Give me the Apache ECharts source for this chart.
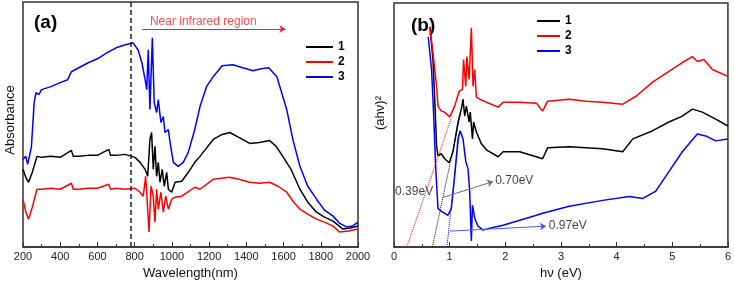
<!DOCTYPE html>
<html><head><meta charset="utf-8">
<script src="https://cdn.jsdelivr.net/npm/echarts@6/dist/echarts.min.js"></script>
<style>html,body{margin:0;padding:0;background:#fff}#c{width:734px;height:285px}</style>
</head><body><div id="c"></div>
<script>
// ---------- Panel (a): absorbance vs wavelength (arbitrary units) ----------
const aXTicks = [200, 400, 600, 800, 1000, 1200, 1400, 1600, 1800, 2000];
const a3X = [200,215,225,245,260,270,285,300,350,400,440,460,500,550,600,650,700,750,791,818,839,856,865,873,882,895,905,918,927,941,954,963,981,990,1008,1034,1061,1088,1123,1151,1186,1222,1270,1329,1380,1436,1480,1520,1564,1617,1650,1688,1730,1777,1820,1866,1900,1940,1970,2000];
const a3Y = [88,91,83,100,145,155,153,158,161,165,168,176,180,185,189,195,200,203,205,198,185,168,158,198,138,210,145,135,148,125,131,115,118,105,85,81,85,95,118,141,161,171,182,183,180,177,179,180,171,138,108,81,61,48,37,31,24,20,21,25];
const a1X = [200,215,230,250,275,300,350,400,460,470,500,550,600,661,670,700,748,802,829,856,870,882,891,900,909,918,927,936,948,959,972,981,999,1017,1053,1088,1123,1151,1222,1270,1311,1360,1418,1470,1525,1560,1596,1640,1688,1730,1777,1820,1866,1919,1960,2000];
const a1Y = [78,70,65,75,91,90,91,90,97,91,91,92,92,98,92,92,93,90,85,78,71,108,115,78,101,71,85,65,78,61,75,58,55,65,66,75,85,91,108,113,115,110,104,105,107,101,91,78,58,45,35,30,26,18,19,21];
const a2X = [200,215,230,250,275,300,350,400,460,470,500,550,600,661,670,700,748,802,829,846,859,870,877,888,900,909,918,927,941,954,967,981,999,1017,1053,1123,1151,1222,1311,1360,1418,1470,1525,1570,1617,1650,1688,1730,1777,1820,1866,1900,1950,2000];
const a2Y = [48,35,28,40,58,58,59,58,64,58,58,59,59,63,58,59,58,59,55,51,71,38,15,61,51,25,58,38,55,35,51,38,48,50,51,60,58,68,70,68,65,64,65,61,55,46,38,33,28,25,21,15,16,18];
const aVisEdge = 780;                       // visible / NIR boundary (nm)
const aArrow = [[840, 219], [1610, 219]];   // "Near infrared region" arrow
const aArrowText = [882, 226];

// ---------- Panel (b): (ahv)^2 vs photon energy ----------
const bXTicks = [0, 1, 2, 3, 4, 5, 6];
const b1X = [0.645,0.70,0.734,0.765,0.79,0.85,0.91,0.99,1.06,1.15,1.21,1.24,1.27,1.30,1.35,1.37,1.41,1.43,1.48,1.57,1.66,1.87,1.96,2.26,2.67,2.76,3.15,3.75,4.11,4.29,4.64,4.94,5.18,5.36,5.54,5.78,6.0];
const b1Y = [222,189,146,102,92,94,89,85,96,126,139,149,132,142,126,136,109,126,116,104,98,91,96,96,89,100,101,99,96,109,117,126,132,139,136,129,122];
const b2X = [0.645,0.70,0.765,0.79,0.85,0.91,1.00,1.09,1.17,1.23,1.25,1.29,1.31,1.35,1.39,1.42,1.45,1.48,1.54,1.66,1.87,1.96,2.26,2.56,2.67,2.76,3.15,3.45,3.75,4.11,4.35,4.64,4.94,5.18,5.36,5.45,5.57,5.72,6.0];
const b2Y = [222,196,162,142,137,136,131,142,157,159,189,162,192,169,221,162,179,151,149,146,141,146,146,145,137,147,149,147,146,144,152,166,177,186,192,187,189,179,172];
const b3X = [0.615,0.675,0.716,0.75,0.79,0.85,0.91,0.97,1.03,1.09,1.15,1.19,1.24,1.29,1.33,1.36,1.39,1.41,1.45,1.51,1.60,1.72,1.96,2.26,2.56,2.67,3.15,3.75,4.23,4.47,4.70,4.94,5.18,5.45,5.60,5.78,6.0];
const b3Y = [212,179,129,79,39,36,34,32,39,72,109,117,109,86,79,56,6,42,29,21,17,19,22,27,32,34,41,47,51,49,56,76,96,114,112,107,109];
// Tauc tangent lines
const bTan2 = [[0.23, 0], [1.03, 130]];
const bTan1 = [[0.69, 0], [1.20, 135]];
const bTan3 = [[0.95, 0], [1.18, 118]];
// annotation pointers and labels
const bPtr1 = [[0.88, 50], [1.78, 66]];
const bPtr3 = [[1.00, 16], [2.73, 21]];
const bLabels = [["0.39eV", 0.02, 56], ["0.70eV", 1.82, 67], ["0.97eV", 2.78, 21]];

const seriesNames = ["1", "2", "3"];
const colors = ["#000000", "#ff0000", "#0000ff"];

const zip = (xs, ys) => xs.map((x, i) => [x, ys[i]]);
const FONT = "Liberation Sans";

function curve(name, color, xi, data) {
  return { type: "line", name, xAxisIndex: xi, yAxisIndex: xi, data, showSymbol: false, symbol: "none",
    lineStyle: { color, width: 1.5 }, itemStyle: { color }, z: 3, animation: false };
}
function seg(xi, coords, color, type, arrow) {
  return { type: "line", xAxisIndex: xi, yAxisIndex: xi, data: [], silent: true,
    markLine: { silent: true, animation: false, symbol: arrow ? ["none", "arrow"] : ["none", "none"], symbolSize: 6,
      label: { show: false }, lineStyle: { color, width: 1, type },
      data: [[{ coord: coords[0] }, { coord: coords[1] }]] } };
}

const xAxisCommon = (min, max, interval) => ({
  type: "value", min, max, interval,
  axisLine: { show: true, lineStyle: { color: "#333", width: 1.5 } },
  axisTick: { show: true, inside: true, length: 5, lineStyle: { color: "#333" } },
  minorTick: { show: true, splitNumber: 2, length: 3, lineStyle: { color: "#333" } },
  splitLine: { show: false },
  axisLabel: { color: "#222", fontSize: 11, fontFamily: FONT, margin: 4, formatter: v => String(v) },
  nameLocation: "middle", nameGap: 20,
  nameTextStyle: { color: "#111", fontSize: 13, fontFamily: FONT }
});
const yAxisCommon = { type: "value", min: 0, max: 246, axisLine: { show: false }, axisTick: { show: false },
  axisLabel: { show: false }, splitLine: { show: false } };

const option = {
  animation: false,
  backgroundColor: "#fff",
  grid: [
    { left: 23, right: 376, top: 2, bottom: 37, show: true, borderColor: "#333", borderWidth: 1.5 },
    { left: 394, right: 5, top: 3, bottom: 36, show: true, borderColor: "#333", borderWidth: 1.5 }
  ],
  xAxis: [
    Object.assign(xAxisCommon(aXTicks[0], aXTicks[aXTicks.length - 1], aXTicks[1] - aXTicks[0]), { gridIndex: 0, name: "Wavelength(nm)" }),
    Object.assign(xAxisCommon(bXTicks[0], bXTicks[bXTicks.length - 1], bXTicks[1] - bXTicks[0]), { gridIndex: 1, name: "hν (eV)" })
  ],
  yAxis: [Object.assign({ gridIndex: 0 }, yAxisCommon), Object.assign({ gridIndex: 1 }, yAxisCommon)],
  legend: [
    { data: seriesNames, orient: "vertical", left: 301, top: 36, itemWidth: 27, itemHeight: 2, itemGap: 3, icon: "rect",
      textStyle: { fontWeight: "bold", fontSize: 12, color: "#000", fontFamily: FONT }, selectedMode: false },
    { data: seriesNames, orient: "vertical", left: 532, top: 10, itemWidth: 23, itemHeight: 2, itemGap: 3, icon: "rect",
      textStyle: { fontWeight: "bold", fontSize: 12, color: "#000", fontFamily: FONT }, selectedMode: false }
  ],
  graphic: [
    { type: "text", left: 34, top: 13, style: { text: "(a)", font: "bold 19px 'Liberation Sans'", fill: "#000" } },
    { type: "text", left: 411, top: 16, style: { text: "(b)", font: "bold 19px 'Liberation Sans'", fill: "#000" } },
    { type: "text", x: 10, y: 120, rotation: Math.PI / 2,
      style: { text: "Absorbance", font: "13px 'Liberation Sans'", fill: "#111", textAlign: "center", textVerticalAlign: "middle" } },
    { type: "text", x: 380, y: 113, rotation: Math.PI / 2,
      style: { text: "(ahν)²", font: "13px 'Liberation Sans'", fill: "#111", textAlign: "center", textVerticalAlign: "middle" } }
  ],
  series: [
    curve("1", colors[0], 0, zip(a1X, a1Y)),
    curve("2", colors[1], 0, zip(a2X, a2Y)),
    curve("3", colors[2], 0, zip(a3X, a3Y)),
    curve("1", colors[0], 1, zip(b1X, b1Y)),
    curve("2", colors[1], 1, zip(b2X, b2Y)),
    curve("3", colors[2], 1, zip(b3X, b3Y)),
    { type: "line", xAxisIndex: 0, yAxisIndex: 0, data: [], silent: true,
      markLine: { silent: true, animation: false, symbol: ["none", "none"], label: { show: false },
        lineStyle: { color: "#222", width: 1.5, type: [5, 3] }, data: [{ xAxis: aVisEdge }] } },
    seg(0, aArrow, "#ff2020", "solid", true),
    { type: "scatter", xAxisIndex: 0, yAxisIndex: 0, symbolSize: 0, silent: true,
      data: [aArrowText],
      label: { show: true, position: [0, 0], align: "left", verticalAlign: "middle",
        formatter: "Near infrared region", color: "#ff2020", fontSize: 12, fontFamily: FONT } },
    seg(1, bTan2, "#ff0000", "dotted", false),
    seg(1, bTan1, "#000000", "dotted", false),
    seg(1, bTan3, "#0000ff", "dotted", false),
    seg(1, bPtr1, "#707070", "solid", true),
    seg(1, bPtr3, "#4060ff", "solid", true),
    { type: "scatter", xAxisIndex: 1, yAxisIndex: 1, symbolSize: 0, silent: true,
      data: bLabels.map(l => ({ value: [l[1], l[2]], name: l[0] })),
      label: { show: true, position: [0, 0], align: "left", verticalAlign: "middle",
        formatter: p => p.name, color: "#111", fontSize: 12, fontFamily: FONT } }
  ]
};
const chart = echarts.init(document.getElementById("c"), null, { renderer: "canvas" });
chart.setOption(option);
</script></body></html>
